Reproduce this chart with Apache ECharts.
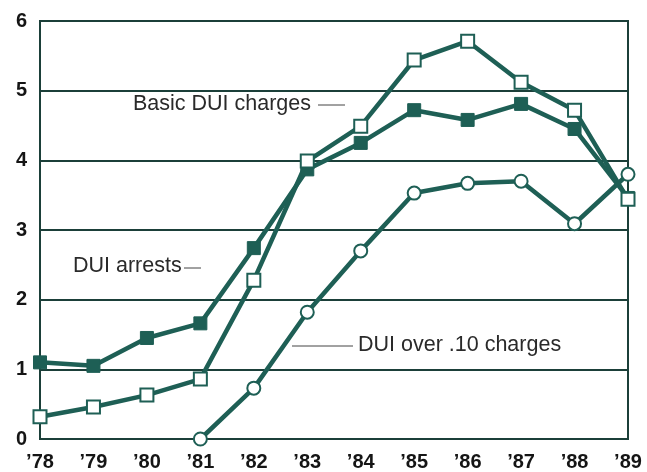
<!DOCTYPE html>
<html>
<head>
<meta charset="utf-8">
<script src="https://cdn.jsdelivr.net/npm/echarts@6/dist/echarts.min.js"></script>
<style>
  html, body { margin: 0; padding: 0; background: #fff; }
  #chart { width: 647px; height: 472px; }
</style>
</head>
<body>
<div id="chart"></div>
<script>
  // years along the bottom
  var years = ['\u201978', '\u201979', '\u201980', '\u201981', '\u201982', '\u201983', '\u201984', '\u201985', '\u201986', '\u201987', '\u201988', '\u201989']

  // values
  var duiArrests = [1.10, 1.05, 1.45, 1.66, 2.74, 3.87, 4.25, 4.72, 4.58, 4.81, 4.45, 3.46]
  var basicCharges = [0.32, 0.46, 0.63, 0.86, 2.28, 3.99, 4.49, 5.44, 5.71, 5.12, 4.72, 3.44]
  var over10Charges = [null, null, null, 0, 0.73, 1.82, 2.70, 3.53, 3.67, 3.70, 3.09, 3.80]

  var teal = '#1e5f55'
  var gridColor = '#1b3f39'
  var noteFont = '21.5px "Liberation Sans"'

  var mychart = echarts.init(document.getElementById('chart'))
  var options = {
    animation: false,
    grid: {
      left: 40,
      right: 19,
      top: 21,
      bottom: 33,
      show: true,
      borderColor: gridColor,
      borderWidth: 2
    },
    xAxis: {
      type: 'category',
      boundaryGap: false,
      data: years,
      axisLine: { show: true, lineStyle: { color: gridColor, width: 2 } },
      axisTick: { show: false },
      axisLabel: {
        color: '#151515',
        fontFamily: 'Liberation Sans',
        fontWeight: 'bold',
        fontSize: 20,
        margin: 13
      },
      splitLine: { show: false }
    },
    yAxis: {
      type: 'value',
      min: 0,
      max: 6,
      interval: 1,
      axisLine: { show: true, lineStyle: { color: gridColor, width: 2 } },
      axisTick: { show: false },
      axisLabel: {
        color: '#151515',
        fontFamily: 'Liberation Sans',
        fontWeight: 'bold',
        fontSize: 20,
        margin: 13
      },
      splitLine: { show: true, lineStyle: { color: gridColor, width: 2 } }
    },
    series: [
      {
        name: 'DUI arrests',
        type: 'line',
        data: duiArrests,
        clip: false,
        symbol: 'rect',
        symbolSize: 13,
        showAllSymbol: true,
        lineStyle: { color: teal, width: 4.5 },
        itemStyle: { color: teal, borderColor: teal, borderWidth: 1 }
      },
      {
        name: 'Basic DUI charges',
        type: 'line',
        data: basicCharges,
        clip: false,
        symbol: 'rect',
        symbolSize: 13,
        showAllSymbol: true,
        lineStyle: { color: teal, width: 4.5 },
        itemStyle: { color: '#fff', borderColor: teal, borderWidth: 2 }
      },
      {
        name: 'DUI over .10 charges',
        type: 'line',
        data: over10Charges,
        clip: false,
        symbol: 'circle',
        symbolSize: 13,
        showAllSymbol: true,
        lineStyle: { color: teal, width: 4.5 },
        itemStyle: { color: '#fff', borderColor: teal, borderWidth: 2 }
      }
    ],
    // annotations with short pointer lines
    graphic: [
      { type: 'text', left: 133, top: 93, style: { text: 'Basic DUI charges', fill: '#2a2a2a', font: noteFont } },
      { type: 'line', shape: { x1: 318, y1: 105, x2: 345, y2: 105 }, style: { stroke: '#444', lineWidth: 1 } },
      { type: 'text', left: 73, top: 255, style: { text: 'DUI arrests', fill: '#2a2a2a', font: noteFont } },
      { type: 'line', shape: { x1: 184, y1: 268, x2: 201, y2: 268 }, style: { stroke: '#444', lineWidth: 1 } },
      { type: 'text', left: 358, top: 334, style: { text: 'DUI over .10 charges', fill: '#2a2a2a', font: noteFont } },
      { type: 'line', shape: { x1: 292, y1: 346, x2: 353, y2: 346 }, style: { stroke: '#444', lineWidth: 1 } }
    ]
  }
  mychart.setOption(options)
</script>
</body>
</html>
